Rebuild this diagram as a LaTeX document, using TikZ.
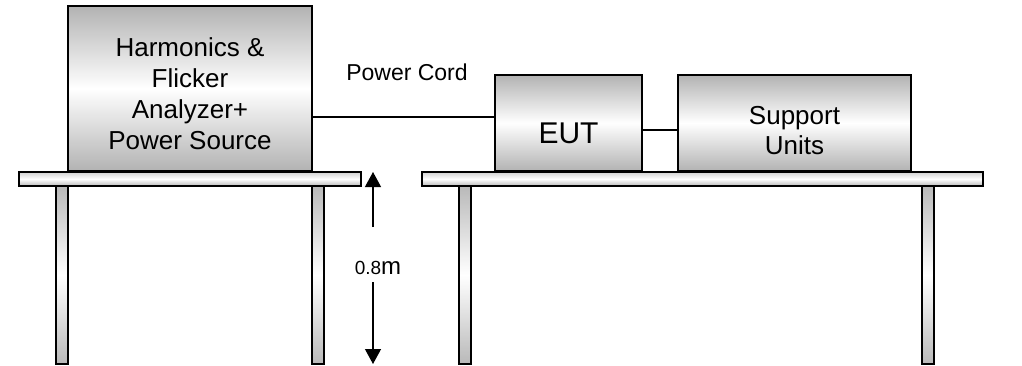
\documentclass[tikz,border=0pt]{standalone}
\usepackage{fontspec}
\setmainfont{Liberation Sans}
\usetikzlibrary{arrows.meta}
\begin{document}
\begin{tikzpicture}[x=1pt,y=-1pt,
  box/.style={draw, line width=1.2pt, top color=gray!60, bottom color=gray!60, middle color=white, inner sep=0pt},
  tabletop/.style={draw, line width=1.2pt, top color=gray!35, bottom color=gray!55, middle color=white, inner sep=0pt, minimum height=14pt},
  tableleg/.style={draw, line width=1.2pt, top color=gray!55, bottom color=gray!55, middle color=white, inner sep=0pt, minimum width=12pt, minimum height=178pt},
  lbl/.style={inner sep=0pt, align=center},
  wire/.style={line width=1.2pt},
  dim/.style={line width=1.2pt, -{Triangle[width=16pt,length=15pt]}}]
\useasboundingbox (0,0) rectangle (1022,365);
% tables
\node[tabletop, minimum width=342pt] (ltop) at (190,179) {};
\node[tabletop, minimum width=561pt] (rtop) at (702.5,179) {};
\node[tableleg] (lleg1) at (62,275) {};
\node[tableleg] (lleg2) at (318,275) {};
\node[tableleg] (rleg1) at (465,275) {};
\node[tableleg] (rleg2) at (928,275) {};
% equipment
\node[box, minimum width=244pt, minimum height=165pt] (lbox) at (190,88.5) {};
\node[lbl, font=\fontsize{26}{31}\selectfont] (lboxt) at (190,94) {Harmonics \&\\Flicker\\Analyzer+\\Power Source};
\node[box, minimum width=147pt, minimum height=96pt] (eut) at (568.5,123) {};
\node[lbl, font=\fontsize{30}{36}\selectfont] (eutt) at (568.5,133) {EUT};
\node[box, minimum width=233pt, minimum height=96pt] (sup) at (794.5,123) {};
\node[lbl, font=\fontsize{26}{30}\selectfont] (supt) at (794.5,131) {Support\\Units};
% cords
\coordinate (cordy) at (0,117);
\coordinate (linky) at (0,130);
\draw[wire] (lbox.east |- cordy) -- (eut.west |- cordy);
\draw[wire] (eut.east |- linky) -- (sup.west |- linky);
\node[lbl, font=\fontsize{23}{27}\selectfont] (cordt) at (407,72) {Power Cord};
% height dimension
\coordinate (atop) at (373,172);
\coordinate (abot) at (373,364);
\coordinate (g1) at (373,227);
\coordinate (g2) at (373,282);
\draw[dim] (g1) -- (atop);
\draw[dim] (g2) -- (abot);
\node[lbl] (ht) at (378,268) {{\fontsize{19}{22}\selectfont 0.8}{\fontsize{24}{26}\selectfont m}};
\end{tikzpicture}
\end{document}
